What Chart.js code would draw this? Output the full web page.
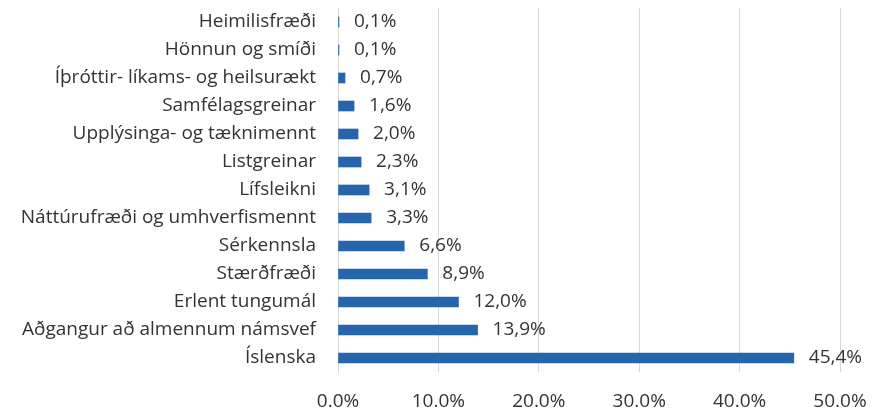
<!DOCTYPE html>
<html>
<head>
<meta charset="utf-8">
<script src="https://cdn.jsdelivr.net/npm/chart.js@4"></script>
<style>
  html, body { margin: 0; padding: 0; background: #fff; }
  #wrap { width: 873px; height: 410px; }
</style>
</head>
<body>
<div id="wrap"><canvas id="chart" width="873" height="410"></canvas></div>
<script>
// Data
const categories = [
  "Heimilisfræði",
  "Hönnun og smíði",
  "Íþróttir- líkams- og heilsurækt",
  "Samfélagsgreinar",
  "Upplýsinga- og tæknimennt",
  "Listgreinar",
  "Lífsleikni",
  "Náttúrufræði og umhverfismennt",
  "Sérkennsla",
  "Stærðfræði",
  "Erlent tungumál",
  "Aðgangur að almennum námsvef",
  "Íslenska"
];
const shares = [0.1, 0.1, 0.7, 1.6, 2.0, 2.3, 3.1, 3.3, 6.6, 8.9, 12.0, 13.9, 45.4];
const xTicks = [0, 10, 20, 30, 40, 50];

const fontFamily = "'Open Sans', sans-serif";
const fontSize = 19;
const textColor = "#333333";

// Value labels to the right of each bar
const valueLabels = {
  id: "valueLabels",
  afterDatasetsDraw(chart) {
    const ctx = chart.ctx;
    const meta = chart.getDatasetMeta(0);
    ctx.save();
    ctx.font = fontSize + "px " + fontFamily;
    ctx.fillStyle = textColor;
    ctx.textAlign = "left";
    ctx.textBaseline = "middle";
    meta.data.forEach((bar, i) => {
      const txt = shares[i].toFixed(1).replace(".", ",") + "%";
      ctx.fillText(txt, bar.x + 15, bar.y);
    });
    ctx.restore();
  }
};

new Chart(document.getElementById("chart"), {
  type: "bar",
  data: {
    labels: categories,
    datasets: [{
      data: shares,
      backgroundColor: "#2565ac",
      borderWidth: 0,
      barThickness: 10
    }]
  },
  options: {
    indexAxis: "y",
    responsive: false,
    animation: false,
    layout: { padding: { top: 8, right: 33, left: 0, bottom: 0 } },
    plugins: {
      legend: { display: false },
      tooltip: { enabled: false }
    },
    scales: {
      x: {
        min: 0,
        max: 50,
        afterFit(scale) {
          scale.height = 38;
          scale.paddingLeft = 0;
          scale.paddingRight = 0;
        },
        afterBuildTicks(scale) { scale.ticks = xTicks.map(v => ({ value: v })); },
        grid: { color: "#d9d9d9", drawTicks: false },
        border: { display: false },
        ticks: {
          padding: 18,
          color: textColor,
          font: { family: fontFamily, size: fontSize },
          callback: v => v.toFixed(1) + "%"
        }
      },
      y: {
        afterFit(scale) {
          scale.width = 338;
          scale.paddingTop = 0;
          scale.paddingBottom = 0;
        },
        grid: { display: false, drawTicks: false },
        border: { display: true, color: "#d9d9d9" },
        ticks: {
          padding: 22,
          color: textColor,
          font: { family: fontFamily, size: fontSize }
        }
      }
    }
  },
  plugins: [valueLabels]
});
</script>
</body>
</html>
